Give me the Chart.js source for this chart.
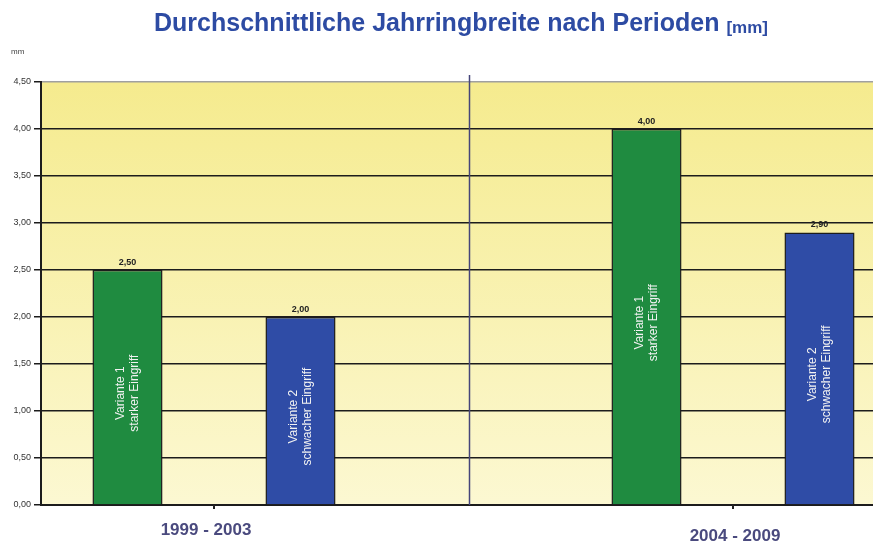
<!DOCTYPE html>
<html>
<head>
<meta charset="utf-8">
<script src="https://cdn.jsdelivr.net/npm/chart.js@4"></script>
<style>
    html, body { margin: 0; padding: 0; background: #fff; overflow: hidden; }
    #wrap { position: relative; width: 906px; height: 547px; }
</style>
</head>
<body>
<div id="wrap"><canvas id="barChart"></canvas></div>
<script>
const periods = ["1999 - 2003", "2004 - 2009"];
const variantNames = ["Variante 1", "Variante 2"];
const variantNotes = ["starker Eingriff", "schwacher Eingriff"];
const variante1 = [2.50, 4.00];
const variante2 = [2.00, 2.90];
const yMax = 4.5;
const yStep = 0.5;

const green = "rgb(31, 139, 64)";
const blue = "rgb(47, 76, 166)";
const FONT = "'Liberation Sans', Arial, sans-serif";

// five slots: two bars per period with an empty slot between the periods
const slotLabels = [];
const slotPeriod = [];
const data1 = [];
const data2 = [];
periods.forEach(function (p, i) {
    if (i > 0) {
        slotLabels.push("");
        slotPeriod.push(null);
        data1.push(null);
        data2.push(null);
    }
    slotLabels.push(p + " / " + variantNames[0]);
    slotPeriod.push(i);
    data1.push(variante1[i]);
    data2.push(null);
    slotLabels.push(p + " / " + variantNames[1]);
    slotPeriod.push(i);
    data1.push(null);
    data2.push(variante2[i]);
});

function fmt(v) {
    return v.toFixed(2).replace(".", ",");
}

const decorPlugin = {
    id: "decor",
    beforeDraw(chart) {
        const { ctx, chartArea: a } = chart;
        const g = ctx.createLinearGradient(0, a.top, 0, a.bottom);
        g.addColorStop(0, "#f5eb8e");
        g.addColorStop(1, "#fcf8d2");
        ctx.save();
        ctx.fillStyle = g;
        ctx.fillRect(a.left, a.top, a.right - a.left, a.bottom - a.top);
        ctx.restore();
    },
    beforeDatasetsDraw(chart) {
        const { ctx, chartArea: a, scales } = chart;
        const x = scales.x;
        // divider between the two periods
        const gapIdx = slotPeriod.indexOf(null);
        const dx = x.getPixelForValue(gapIdx) - 4;
        ctx.save();
        ctx.strokeStyle = "#45457a";
        ctx.lineWidth = 1.5;
        ctx.beginPath();
        ctx.moveTo(dx, a.top - 7);
        ctx.lineTo(dx, a.bottom);
        ctx.stroke();
        ctx.restore();
    },
    afterDatasetsDraw(chart) {
        const { ctx, chartArea: a, scales } = chart;
        ctx.save();
        chart.data.datasets.forEach(function (ds, di) {
            const meta = chart.getDatasetMeta(di);
            meta.data.forEach(function (bar, i) {
                const v = ds.data[i];
                if (v === null) return;
                // value above bar
                ctx.fillStyle = "#222";
                ctx.font = "bold 9px " + FONT;
                ctx.textAlign = "center";
                ctx.textBaseline = "bottom";
                ctx.fillText(fmt(v), bar.x, bar.y - 3);
                // rotated label inside bar
                const cy = (bar.y + bar.base) / 2 + 6;
                ctx.save();
                ctx.translate(bar.x, cy);
                ctx.rotate(-Math.PI / 2);
                ctx.fillStyle = "#f2f2f2";
                ctx.font = "12px " + FONT;
                ctx.textBaseline = "middle";
                ctx.fillText(variantNames[di], 0, -7);
                ctx.fillText(variantNotes[di], 0, 7);
                ctx.restore();
            });
        });

        // period labels under the axis
        const x = scales.x;
        periods.forEach(function (p, i) {
            const first = slotPeriod.indexOf(i);
            const px = (x.getPixelForValue(first) + x.getPixelForValue(first + 1)) / 2;
            ctx.strokeStyle = "#222";
            ctx.lineWidth = 2;
            ctx.beginPath();
            ctx.moveTo(px, a.bottom);
            ctx.lineTo(px, a.bottom + 4);
            ctx.stroke();
            ctx.fillStyle = "#4a4a7e";
            ctx.font = "bold 17px " + FONT;
            ctx.textAlign = "center";
            ctx.textBaseline = "middle";
            ctx.fillText(p, px - (i === 0 ? 8 : -2), a.bottom + (i === 0 ? 25 : 31));
        });

        // title
        const t1 = "Durchschnittliche Jahrringbreite nach Perioden ";
        const t2 = "[mm]";
        ctx.fillStyle = "#2d4ba3";
        ctx.textAlign = "left";
        ctx.textBaseline = "alphabetic";
        ctx.font = "bold 25px " + FONT;
        const w1 = ctx.measureText(t1).width;
        ctx.font = "bold 17px " + FONT;
        const w2 = ctx.measureText(t2).width;
        const start = 461 - (w1 + w2) / 2;
        ctx.font = "bold 25px " + FONT;
        ctx.fillText(t1, start, 31);
        ctx.font = "bold 17px " + FONT;
        ctx.fillText(t2, start + w1, 33);

        // unit label
        ctx.fillStyle = "#444";
        ctx.font = "8px " + FONT;
        ctx.textAlign = "left";
        ctx.textBaseline = "middle";
        ctx.fillText("mm", 11, 52);
        ctx.restore();
    }
};

new Chart(document.getElementById("barChart").getContext("2d"), {
    type: "bar",
    data: {
        labels: slotLabels,
        datasets: [
            { label: variantNames[0], data: data1, backgroundColor: green, borderColor: "#1c1c1c", borderWidth: 1.5 },
            { label: variantNames[1], data: data2, backgroundColor: blue, borderColor: "#1c1c1c", borderWidth: 1.5 }
        ]
    },
    options: {
        responsive: true,
        maintainAspectRatio: false,
        animation: false,
        layout: { padding: { top: 82, right: 0, bottom: 0, left: 0 } },
        datasets: {
            bar: { grouped: false, barPercentage: 0.405, categoryPercentage: 1.0 }
        },
        plugins: {
            legend: { display: false },
            tooltip: { enabled: false }
        },
        scales: {
            x: {
                ticks: { display: false },
                grid: { display: false },
                border: { display: true, color: "#1c1c1c", width: 2 },
                afterFit: scale => { scale.height = 42; }
            },
            y: {
                min: 0,
                max: yMax,
                ticks: {
                    stepSize: yStep,
                    padding: 3,
                    color: "#333",
                    font: { family: FONT, size: 9 },
                    callback: value => fmt(value)
                },
                grid: {
                    color: ctx => (ctx.tick && ctx.tick.value === yMax ? "#a0a0a0" : "#1c1c1c"),
                    lineWidth: 1.5,
                    tickLength: 7,
                    tickColor: "#1c1c1c"
                },
                border: { display: true, color: "#1c1c1c", width: 2 },
                afterFit: scale => { scale.width = 41; }
            }
        }
    },
    plugins: [decorPlugin]
});
</script>
</body>
</html>
